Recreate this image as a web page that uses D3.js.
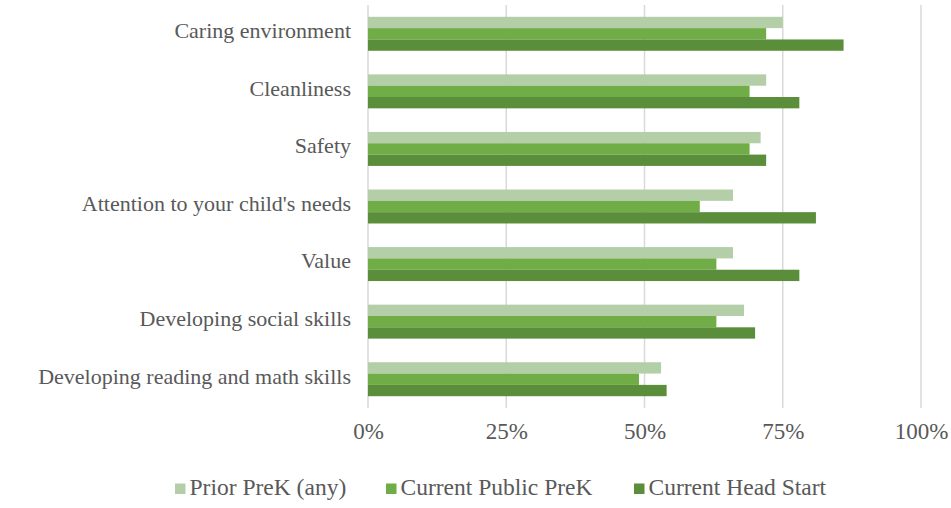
<!DOCTYPE html>
<html lang="en">
<meta charset="utf-8">
<style type="text/css">
  body { margin: 0; background: #fff; }
  svg { display: block; }
  svg text { font-family: "Liberation Serif", "Times New Roman", Tinos, serif !important; }
</style>
<body>
<script src="https://d3js.org/d3.v7.min.js"></script>
<script>
var categories = ["Caring environment", "Cleanliness", "Safety", "Attention to your child's needs",
                  "Value", "Developing social skills", "Developing reading and math skills"];
var seriesNames = ["Prior PreK (any)", "Current Public PreK", "Current Head Start"];
var priorPreK   = [75, 72, 71, 66, 66, 68, 53];
var publicPreK  = [72, 69, 69, 60, 63, 63, 49];
var headStart   = [86, 78, 72, 81, 78, 70, 54];
var xTicks = [0, 25, 50, 75, 100];
var colors = ["#b4cfa8", "#70ad47", "#5a8e3a"];
var legendX = [175, 386, 634];

var FONT = "Liberation Serif";
var width = 951, height = 508;
var margin = {top: 5, right: 30, bottom: 100, left: 368};

var svg = d3.select("body").append("svg")
    .attr("width", width)
    .attr("height", height)
    .attr("font-family", FONT);

var x = d3.scaleLinear()
    .domain([0, 100])
    .range([margin.left, width - margin.right]);

var y = d3.scaleBand()
    .domain(categories)
    .range([margin.top, height - margin.bottom])
    .paddingInner(0.41)
    .paddingOuter(0.205);

var ySub = d3.scaleBand()
    .domain(seriesNames)
    .range([0, y.bandwidth()]);

// gridlines
svg.append("g")
  .selectAll("line")
  .data(xTicks)
  .enter().append("line")
    .attr("x1", function (d) { return x(d); })
    .attr("x2", function (d) { return x(d); })
    .attr("y1", margin.top)
    .attr("y2", height - margin.bottom)
    .attr("stroke", "#d9d9d9")
    .attr("stroke-width", 1.5);

var rows = categories.map(function (c, i) {
    return {cat: c, vals: [priorPreK[i], publicPreK[i], headStart[i]]};
});

var groups = svg.selectAll(".cat")
    .data(rows)
    .enter().append("g")
    .attr("class", "cat")
    .attr("transform", function (d) { return "translate(0," + y(d.cat) + ")"; });

groups.selectAll("rect")
    .data(function (d) { return d.vals.map(function (v, j) { return {name: seriesNames[j], v: v, j: j}; }); })
    .enter().append("rect")
    .attr("x", x(0))
    .attr("y", function (d) { return ySub(d.name); })
    .attr("width", function (d) { return x(d.v) - x(0); })
    .attr("height", ySub.bandwidth())
    .attr("fill", function (d) { return colors[d.j]; });

// category labels
var catLabels = svg.append("g")
  .selectAll("text")
  .data(categories)
  .enter().append("text")
    .attr("x", margin.left - 17)
    .attr("y", function (d) { return y(d) + y.bandwidth() / 2; })
    .attr("dy", "0.2em")
    .attr("text-anchor", "end")
    .attr("font-family", FONT)
    .attr("font-size", 20)
    .attr("fill", "#595959")
    .text(function (d) { return d; });

// x axis labels
var xAxis = d3.axisBottom(x)
    .tickValues(xTicks)
    .tickFormat(function (d) { return d + "%"; })
    .tickSize(0)
    .tickPadding(14.5);

var ax = svg.append("g")
    .attr("transform", "translate(0," + (height - margin.bottom) + ")")
    .call(xAxis)
    .attr("font-family", FONT);
ax.select(".domain").remove();
var tickLabels = ax.selectAll("text")
    .attr("fill", "#595959")
    .attr("font-family", FONT)
    .attr("font-size", 20);

// legend
var legend = svg.append("g")
  .selectAll("g")
  .data(seriesNames)
  .enter().append("g")
    .attr("transform", function (d, i) { return "translate(" + legendX[i] + ",0)"; });
legend.append("rect")
    .attr("x", 0).attr("y", 483.5)
    .attr("width", 10.5).attr("height", 10.5)
    .attr("fill", function (d, i) { return colors[i]; });
var legendLabels = legend.append("text")
    .attr("x", 14.5).attr("y", 495)
    .attr("font-family", FONT)
    .attr("font-size", 20)
    .attr("fill", "#595959")
    .text(function (d) { return d; });

// set the final text sizes; run again later so the serif face gets picked up
function finalize(step) {
    var n = step * 0.01;
    svg.selectAll("text").each(function () { this.getComputedTextLength(); });
    catLabels.attr("font-size", 24 + n).attr("letter-spacing", "0.8px");
    tickLabels.attr("font-size", 23 + n);
    legendLabels.attr("font-size", 23.5 + n);
    svg.selectAll("text").each(function () { this.getComputedTextLength(); });
    var widest = d3.max(catLabels.nodes(), function (t) { return t.getComputedTextLength(); });
    if (widest > margin.left - 10) {
        catLabels.attr("letter-spacing", null)
            .attr("font-size", Math.floor(24 * (margin.left - 24) / widest));
    }
}
finalize(0);
finalize(1);
requestAnimationFrame(function () { finalize(2); });
setTimeout(function () { finalize(3); }, 60);
if (document.fonts) document.fonts.ready.then(function () { finalize(4); });
</script>
</body>
</html>
